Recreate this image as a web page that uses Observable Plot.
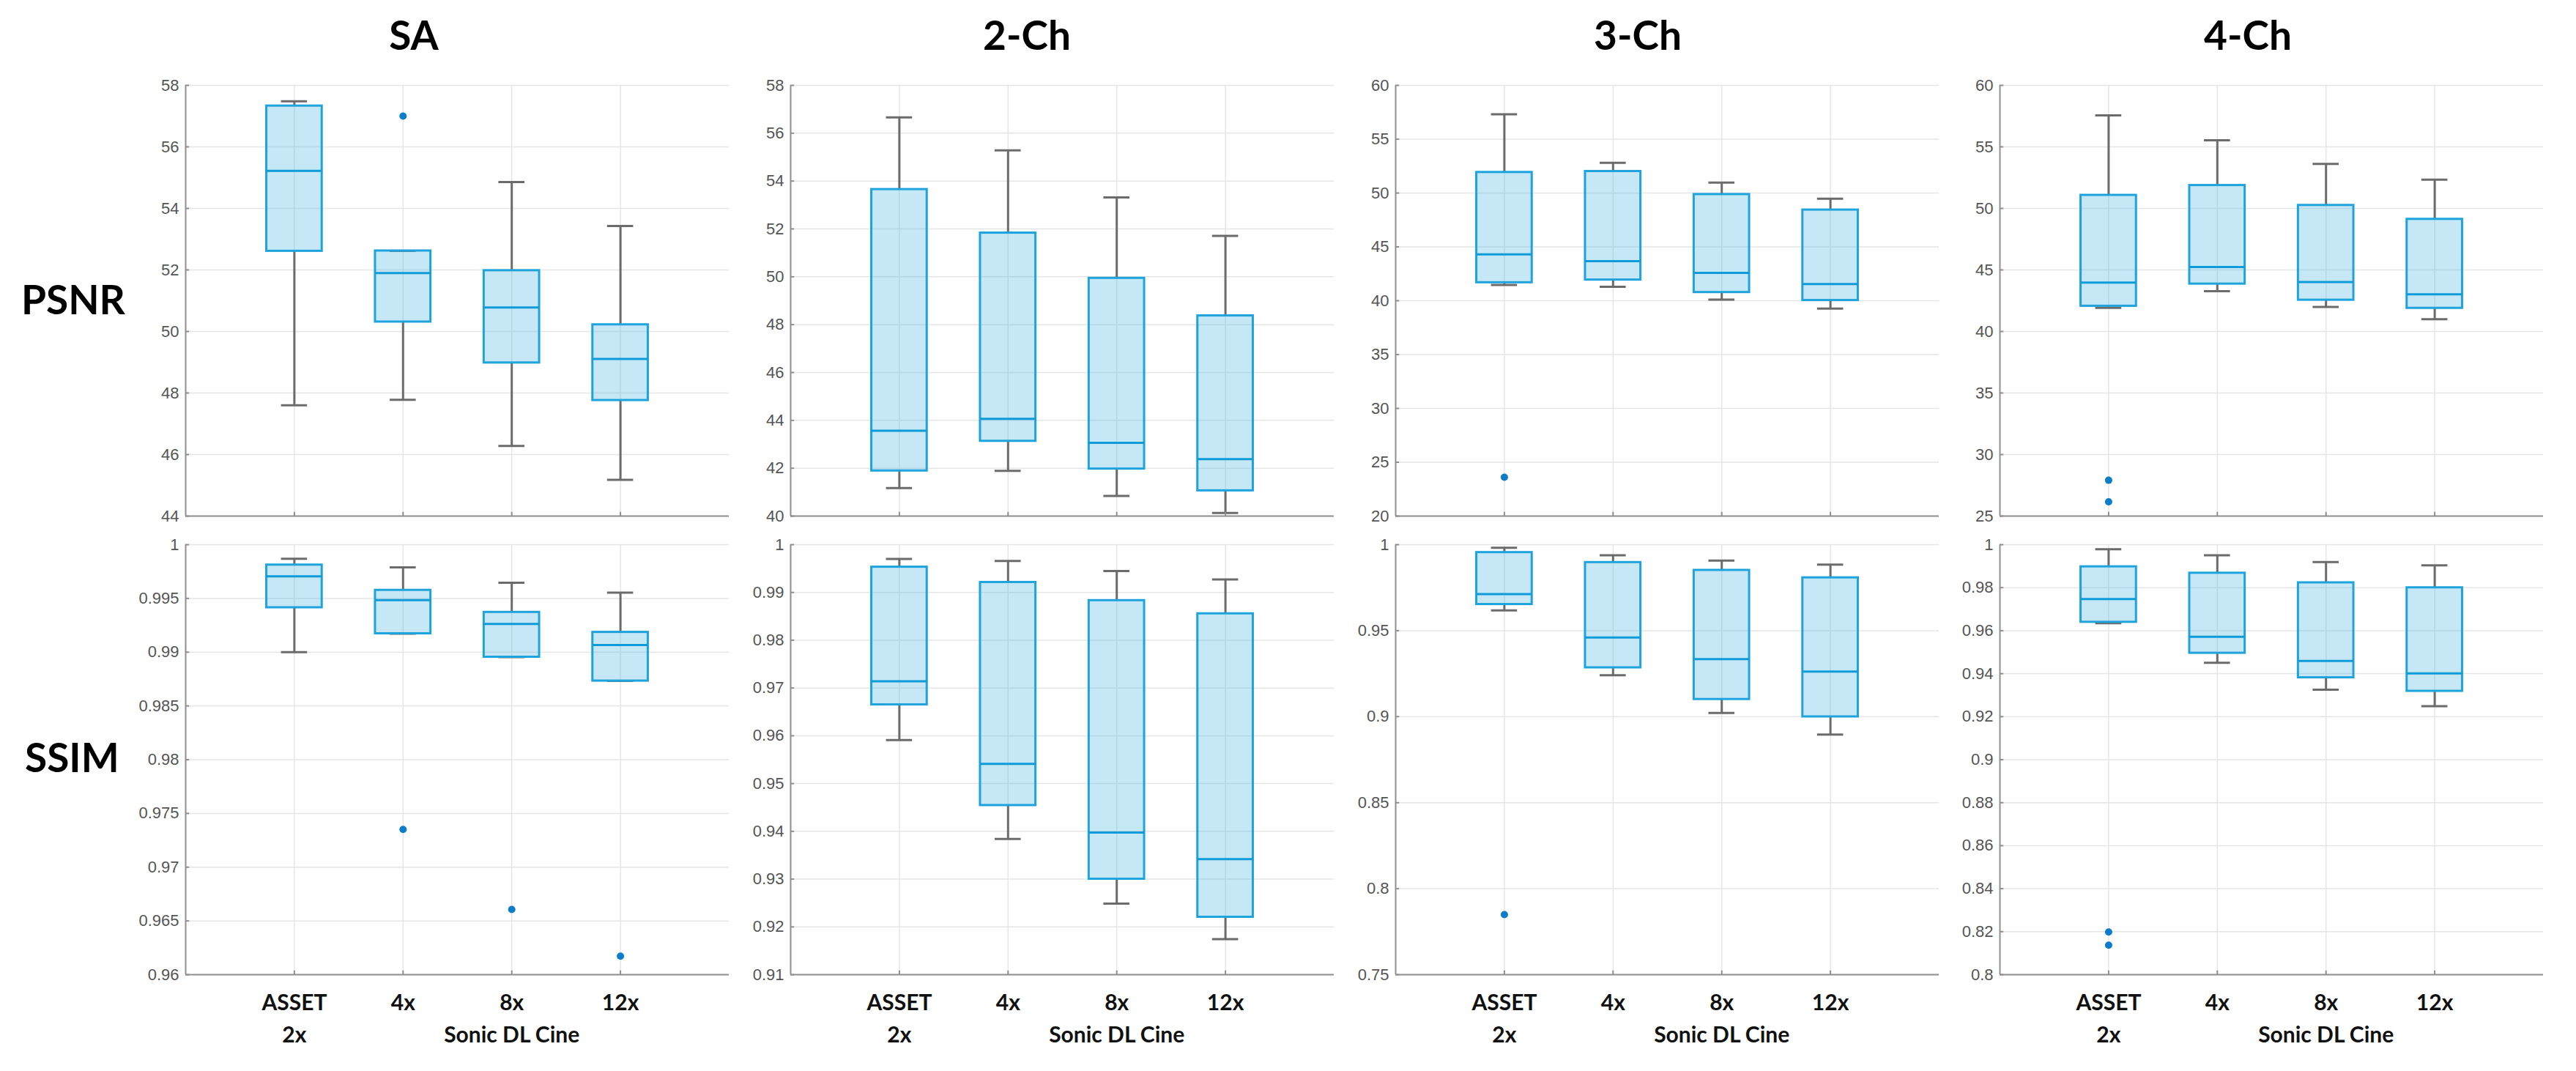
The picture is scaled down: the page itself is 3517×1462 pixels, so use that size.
<!DOCTYPE html>
<html>
<head>
<meta charset="utf-8">
<script src="https://cdn.jsdelivr.net/npm/d3@7"></script>
<script src="https://cdn.jsdelivr.net/npm/@observablehq/plot@0.6"></script>
<style>
  html, body { margin: 0; padding: 0; background: #fff; }
  #root { position: relative; width: 3517px; height: 1462px; overflow: hidden; font-family: Lato, "Open Sans", sans-serif; }
  .ttl { position: absolute; font-weight: bold; font-size: 55px; line-height: 55px; color: #000; white-space: nowrap; }
  .panel { position: absolute; }
  .panel svg { max-width: none !important; }
</style>
</head>
<body>
<div id="root"></div>
<script>
// ---------- data ----------
const views = ["SA", "2-Ch", "3-Ch", "4-Ch"];
const metrics = ["PSNR", "SSIM"];
const categoryPos = [1, 2, 3, 4];
const labelLine1 = ["ASSET", "4x", "8x", "12x"];
const labelLine2Pos = [1, 3];
const labelLine2 = ["2x", "Sonic DL Cine"];

// each row: [lower whisker, Q1, median, Q3, upper whisker] for ASSET 2x, 4x, 8x, 12x
const saPSNR  = [[47.60, 52.61, 55.22, 57.33, 57.48], [47.78, 50.31, 51.90, 52.62, 52.62], [46.28, 48.98, 50.78, 51.98, 54.86], [45.18, 47.76, 49.11, 50.22, 53.43]];
const ch2PSNR = [[41.17, 41.89, 43.57, 53.65, 56.66], [41.89, 43.13, 44.06, 51.83, 55.28], [40.84, 41.97, 43.06, 49.94, 53.32], [40.13, 41.06, 42.38, 48.37, 51.71]];
const ch3PSNR = [[41.46, 41.68, 44.31, 51.92, 57.31], [41.30, 41.93, 43.68, 52.01, 52.81], [40.11, 40.77, 42.58, 49.87, 50.97], [39.27, 40.03, 41.55, 48.43, 49.48]];
const ch4PSNR = [[41.92, 42.06, 43.97, 51.07, 57.56], [43.28, 43.86, 45.24, 51.87, 55.53], [42.00, 42.55, 44.02, 50.25, 53.61], [41.00, 41.89, 43.02, 49.12, 52.34]];

const saSSIM  = [[0.9900, 0.99414, 0.99705, 0.99811, 0.99868], [0.99172, 0.99172, 0.99483, 0.99576, 0.99788], [0.98954, 0.98954, 0.99262, 0.99371, 0.99646], [0.98732, 0.98732, 0.99066, 0.99185, 0.99553]];
const ch2SSIM = [[0.95912, 0.96649, 0.97141, 0.99531, 0.99702], [0.93842, 0.94542, 0.95413, 0.99211, 0.99657], [0.92487, 0.93000, 0.93976, 0.98831, 0.99449], [0.91742, 0.92204, 0.93418, 0.98555, 0.99270]];
const ch3SSIM = [[0.96175, 0.96526, 0.97126, 0.99545, 0.99814], [0.92411, 0.92845, 0.94603, 0.98966, 0.99380], [0.90219, 0.91005, 0.93342, 0.98511, 0.99069], [0.88958, 0.89992, 0.92618, 0.98077, 0.98842]];
const ch4SSIM = [[0.96344, 0.96394, 0.97469, 0.98974, 0.99785], [0.94508, 0.94954, 0.95715, 0.98677, 0.99504], [0.93251, 0.93813, 0.94590, 0.98230, 0.99189], [0.92490, 0.93184, 0.94012, 0.97998, 0.99041]];

// outliers: [category position, value]
const saPSNRout  = [[2, 57.00]];
const ch2PSNRout = [];
const ch3PSNRout = [[1, 23.61]];
const ch4PSNRout = [[1, 27.91], [1, 26.16]];
const saSSIMout  = [[2, 0.97351], [3, 0.96606], [4, 0.96172]];
const ch2SSIMout = [];
const ch3SSIMout = [[1, 0.78495]];
const ch4SSIMout = [[1, 0.81985], [1, 0.81373]];

// y tick labels
const saPSNRticks  = [44, 46, 48, 50, 52, 54, 56, 58];
const ch2PSNRticks = [40, 42, 44, 46, 48, 50, 52, 54, 56, 58];
const ch3PSNRticks = [20, 25, 30, 35, 40, 45, 50, 55, 60];
const ch4PSNRticks = [25, 30, 35, 40, 45, 50, 55, 60];
const saSSIMticks  = [0.96, 0.965, 0.97, 0.975, 0.98, 0.985, 0.99, 0.995, 1];
const ch2SSIMticks = [0.91, 0.92, 0.93, 0.94, 0.95, 0.96, 0.97, 0.98, 0.99, 1];
const ch3SSIMticks = [0.75, 0.8, 0.85, 0.9, 0.95, 1];
const ch4SSIMticks = [0.8, 0.82, 0.84, 0.86, 0.88, 0.9, 0.92, 0.94, 0.96, 0.98, 1];

// ---------- layout ----------
const plotLefts = [253, 1079, 1905, 2730];
const plotW = 742;
const rowTops = [116, 743];
const rowH = [588, 587];
const titleCenters = [565, 1402, 2236, 3069];
const ML = 80, MR = 4, MT = 10;

const BLUE = "#1ea3dc", MED = "#0f9bd7", FILL = "#4fb3e3", GRAY = "#6b6b6b",
      GRID = "#e6e6e6", AXIS = "#8f8f8f", OUT = "#0b7dca";

const panelData = [
  [saPSNR, ch2PSNR, ch3PSNR, ch4PSNR],
  [saSSIM, ch2SSIM, ch3SSIM, ch4SSIM]
];
const panelOut = [
  [saPSNRout, ch2PSNRout, ch3PSNRout, ch4PSNRout],
  [saSSIMout, ch2SSIMout, ch3SSIMout, ch4SSIMout]
];
const panelTicks = [
  [saPSNRticks, ch2PSNRticks, ch3PSNRticks, ch4PSNRticks],
  [saSSIMticks, ch2SSIMticks, ch3SSIMticks, ch4SSIMticks]
];

const root = document.getElementById("root");

function addText(txt, left, top, center) {
  const d = document.createElement("div");
  d.className = "ttl";
  d.textContent = txt;
  d.style.left = left + "px";
  d.style.top = top + "px";
  if (center) d.style.transform = "translateX(-50%)";
  root.appendChild(d);
}

views.forEach((v, i) => addText(v, titleCenters[i], 20, true));
addText(metrics[0], 29, 381, false);
addText(metrics[1], 34, 1006, false);

const fmt = d => String(+d.toFixed(4));
const HW = 0.255, CW = 0.12;

for (let r = 0; r < 2; r++) {
  for (let c = 0; c < 4; c++) {
    const stats = panelData[r][c];
    const rows = stats.map((s, i) => ({x: categoryPos[i], lo: s[0], q1: s[1], med: s[2], q3: s[3], hi: s[4]}));
    const outs = panelOut[r][c].map(o => ({x: o[0], v: o[1]}));
    const ticks = panelTicks[r][c];
    const ymin = ticks[0], ymax = ticks[ticks.length - 1];
    const span = ymax - ymin;
    const withLabels = r === 1;
    const MB = withLabels ? 110 : 10;

    const marks = [
      Plot.ruleY(ticks, {y: d => d, stroke: GRID, strokeWidth: 1.5}),
      Plot.ruleX(categoryPos, {x: d => d, stroke: GRID, strokeWidth: 1.5}),
      // whiskers
      Plot.ruleX(rows.filter(d => d.lo < d.q1), {x: "x", y1: "lo", y2: "q1", stroke: GRAY, strokeWidth: 3}),
      Plot.ruleX(rows.filter(d => d.hi > d.q3), {x: "x", y1: "q3", y2: "hi", stroke: GRAY, strokeWidth: 3}),
      Plot.ruleY(rows, {y: "lo", x1: d => d.x - CW, x2: d => d.x + CW, stroke: GRAY, strokeWidth: 3}),
      Plot.ruleY(rows, {y: "hi", x1: d => d.x - CW, x2: d => d.x + CW, stroke: GRAY, strokeWidth: 3}),
      // boxes
      Plot.rect(rows, {x1: d => d.x - HW, x2: d => d.x + HW, y1: "q1", y2: "q3", fill: FILL, fillOpacity: 0.32, stroke: BLUE, strokeWidth: 3}),
      Plot.ruleY(rows, {y: "med", x1: d => d.x - HW, x2: d => d.x + HW, stroke: MED, strokeWidth: 3}),
      // outliers
      Plot.dot(outs, {x: "x", y: "v", r: 5, fill: OUT, stroke: null}),
      // axis lines and inward ticks
      Plot.ruleY(ticks, {y: d => d, x1: 0, x2: 0.035, stroke: AXIS, strokeWidth: 2}),
      Plot.ruleX(categoryPos, {x: d => d, y1: ymin, y2: ymin + span * 0.009, stroke: AXIS, strokeWidth: 2}),
      Plot.ruleX([0], {stroke: AXIS, strokeWidth: 2}),
      Plot.ruleY([ymin], {stroke: AXIS, strokeWidth: 2}),
      Plot.axisY(ticks, {tickSize: 0, tickPadding: 9, fontSize: 22, fill: "#555", tickFormat: fmt, label: null})
    ];
    if (withLabels) {
      marks.push(
        Plot.axisX(categoryPos, {tickSize: 0, tickPadding: 27.5, fontSize: 30, fontWeight: "bold", fill: "#111",
          fontFamily: "Lato", label: null, tickFormat: d => labelLine1[categoryPos.indexOf(d)]}),
        Plot.axisX(labelLine2Pos, {tickSize: 0, tickPadding: 71.5, fontSize: 30, fontWeight: "bold", fill: "#111",
          fontFamily: "Lato", label: null, tickFormat: d => labelLine2[labelLine2Pos.indexOf(d)]})
      );
    }

    const svg = Plot.plot({
      width: ML + plotW + MR,
      height: MT + rowH[r] + MB,
      marginLeft: ML, marginRight: MR, marginTop: MT, marginBottom: MB,
      x: {domain: [0, 5], axis: withLabels ? undefined : null, label: null},
      y: {domain: [ymin, ymax], label: null},
      style: {background: "transparent", overflow: "visible", fontFamily: "Liberation Sans, Arial, sans-serif"},
      marks
    });
    const wrap = document.createElement("div");
    wrap.className = "panel";
    wrap.style.left = (plotLefts[c] - ML) + "px";
    wrap.style.top = (rowTops[r] - MT) + "px";
    wrap.appendChild(svg);
    root.appendChild(wrap);
  }
}
</script>
</body>
</html>
